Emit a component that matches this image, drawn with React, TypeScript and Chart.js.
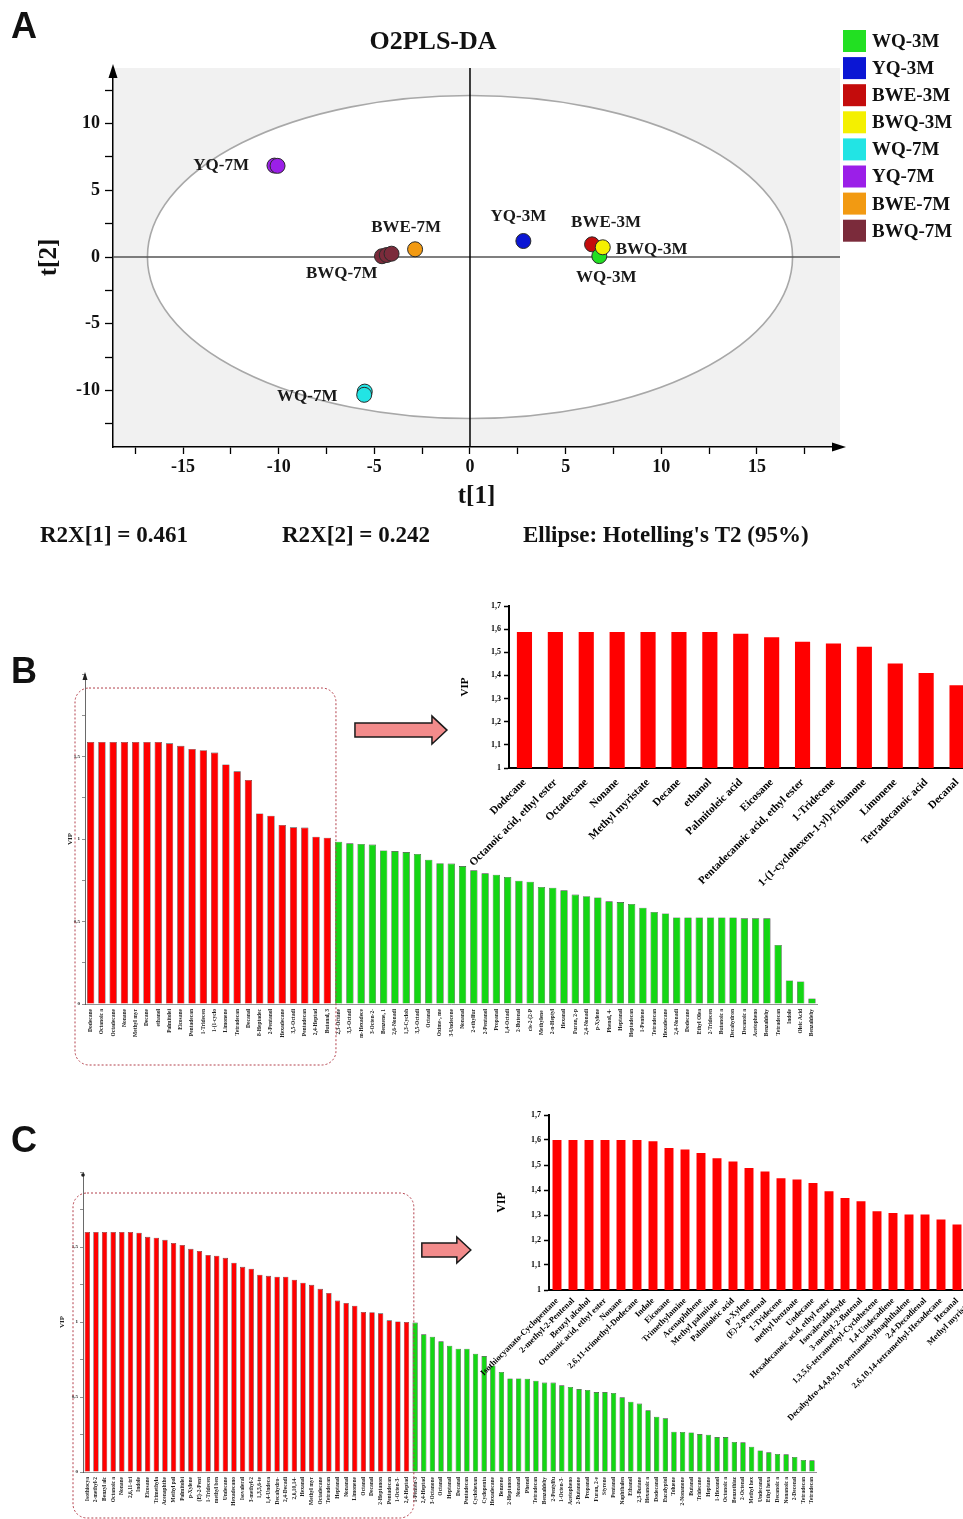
import React, { useEffect, useRef } from 'react';
import { Chart, registerables } from 'chart.js';

Chart.register(...registerables);

const SERIF = "'Liberation Serif', 'Times New Roman', serif";
const SANS = "'Liberation Sans', Arial, sans-serif";
const RED = '#ff0000';
const GREEN = '#14d614';

// ---------------- Panel A : O2PLS-DA score plot ----------------
const plotTitle = 'O2PLS-DA';
const groupNames = ['WQ-3M', 'YQ-3M', 'BWE-3M', 'BWQ-3M', 'WQ-7M', 'YQ-7M', 'BWE-7M', 'BWQ-7M'];
const groupColors = ['#22e022', '#0b16d4', '#c40c0c', '#f4f000', '#22e4e4', '#9b1fe8', '#f29a12', '#7b2b3b'];
const groupOrder = [1, 3, 2, 0, 3, 3, 3, 3];
const t1Scores = [[6.76], [2.79], [6.38], [6.94], [-5.5, -5.53], [-10.22, -10.06], [-2.87], [-4.6, -4.35, -4.1]];
const t2Scores = [[0.07], [1.2], [0.95], [0.73], [-10.08, -10.32], [6.85, 6.83], [0.58], [0.06, 0.15, 0.25]];
const r2x1 = 0.461;
const r2x2 = 0.242;
const ellipseLabel = "Ellipse: Hotelling's T2 (95%)";
const ellipseCenter = [0, 0];
const ellipseRadii = [16.86, 12.1];

// label placement for the group names (pixels from the group's mean point)
const labelPlacement: Record<string, [number, number, CanvasTextAlign]> = {
  'WQ-3M': [7, 22, 'center'],
  'YQ-3M': [-5, -24, 'center'],
  'BWE-3M': [14, -22, 'center'],
  'BWQ-3M': [13, 2, 'left'],
  'WQ-7M': [-27, 3, 'right'],
  'YQ-7M': [-27, 0, 'right'],
  'BWE-7M': [-9, -22, 'center'],
  'BWQ-7M': [-45, 19, 'center'],
};

// ---------------- Panel B : VIP ----------------
const bTopNames = [
  'Dodecane', 'Octanoic acid, ethyl ester', 'Octadecane', 'Nonane', 'Methyl myristate', 'Decane', 'ethanol',
  'Palmitoleic acid', 'Eicosane', 'Pentadecanoic acid, ethyl ester', '1-Tridecene',
  '1-(1-cyclohexen-1-yl)-Ethanone', 'Limonene', 'Tetradecanoic acid', 'Decanal',
];
const bOtherRedNames = ['8-Heptadecene', '2-Pentanol', 'Hexadecane', '3,5-Octadien-2-one', 'Pentadecane', '2,4-Heptadienal', 'Butanal, 3-methyl-'];
const bRedVIP = [1.588, 1.588, 1.588, 1.588, 1.588, 1.588, 1.588, 1.58, 1.565, 1.546, 1.538, 1.524, 1.452, 1.41, 1.358,
  1.155, 1.141, 1.085, 1.071, 1.069, 1.014, 1.008];
const bGreenNames = [
  '2,3-Octanedione', '3,5-Octadien-2-ol', 'm-Hexadecene', '3-Octen-2-one', 'Benzene, 1,3-dimethyl', '2,6-Nonadienal',
  '1,3-Cyclohexadiene', '3,5-Octadiene', 'Octanal', 'Oxime-, methoxy-phenyl', '3-Undecene', 'Nonanal', '2-ethylfuran',
  '2-Pentanol', 'Propanal', '1,4-Octadiene', '2-Butenal', 'cis-2-(2-Pentenyl)furan', 'Methylene chloride',
  '2-n-Heptylfuran', 'Hexanal', 'Furan, 2-pentyl', '2,4-Nonadienal', 'p-Xylene', 'Phenol, 4-ethyl', 'Heptanal',
  'Heptadecane', '1-Pentene', 'Tetradecane', 'Hexadecane', '2,4-Nonadiene', 'Dodecane', 'Ethyl Oleate', '2-Tridecene',
  'Butanoic acid', 'Decahydronaphthalene', 'Decanoic acid', 'Acetophenone', 'Benzaldehyde', 'Tetradecanal', 'Indole',
  'Oleic Acid', 'Benzaldehyde, 4-methyl',
];
const bGreenVIP = [0.984, 0.974, 0.97, 0.966, 0.931, 0.927, 0.921, 0.909, 0.875, 0.853, 0.851, 0.836, 0.81, 0.792,
  0.784, 0.77, 0.747, 0.741, 0.709, 0.705, 0.689, 0.663, 0.653, 0.646, 0.622, 0.618, 0.606, 0.584, 0.558, 0.549,
  0.525, 0.525, 0.525, 0.525, 0.525, 0.525, 0.519, 0.519, 0.519, 0.358, 0.143, 0.137, 0.034];

// ---------------- Panel C : VIP ----------------
const cTopNames = [
  'Isothiocyanato-Cyclopentane', '2-methyl-2-Pentenal', 'Benzyl alcohol', 'Octanoic acid, ethyl ester', 'Nonane',
  '2,6,11-trimethyl-Dodecane', 'Indole', 'Eicosane', 'Trimethylamine', 'Acenaphthene', 'Methyl palmitate',
  'Palmitoleic acid', 'p-Xylene', '(E)-2-Pentenal', '1-Tridecene', 'methyl benzoate', 'Undecane',
  'Hexadecanoic acid, ethyl ester', 'Isovaleraldehyde', '3-methyl-2-Butenal', '1,3,5,6-tetramethyl-Cyclohexene',
  '1,4-Undecadiene', 'Decahydro-4,4,8,9,10-pentamethylnaphthalene', '2,4-Decadienal',
  '2,6,10,14-tetramethyl-Hexadecane', 'Hexanal', 'Methyl myristate',
];
const cOtherRedNames = ['Octadecane', 'Tetradecane', 'Heptanal', 'Nonanal', 'Limonene', 'Octanal', 'Decanal',
  '2-Heptanone', 'Pentadecane', '1-Octen-3-ol', '2,4-Heptadienal'];
const cRedVIP = [1.6, 1.6, 1.6, 1.6, 1.6, 1.6, 1.595, 1.568, 1.562, 1.548, 1.527, 1.514, 1.488, 1.474, 1.447, 1.442,
  1.428, 1.395, 1.368, 1.355, 1.315, 1.308, 1.302, 1.302, 1.282, 1.262, 1.248, 1.221, 1.194, 1.143, 1.127, 1.109,
  1.067, 1.065, 1.058, 1.011, 1.004, 1.0];
const cGreenNames = [
  '1-Penten-3-ol', '2,4-Heptadienal', '3-Octanone', 'Octanal', 'Heptanal', 'Decanal', 'Pentadecane', 'Cyclohexanone',
  'Cyclopentanol', 'Hexadecane', 'Benzene', '2-Heptanone', 'Nonanal', 'Phenol', 'Tetradecane', 'Benzaldehyde',
  '2-Pentylfuran', '1-Octen-3-ol', 'Acetophenone', '2-Butanone', 'Propanal', 'Furan, 2-ethyl', 'Styrene', 'Pentanal',
  'Naphthalene', 'Ethanol', '2,3-Butanedione', 'Hexanoic acid', 'Dodecanal', 'Eucalyptol', 'Toluene', '2-Nonanone',
  'Butanal', 'Tridecane', 'Heptane', '1-Hexanol', 'Octanoic acid', 'Benzothiazole', '2-Octenal', 'Methyl hexanoate',
  'Undecanal', 'Ethyl hexanoate', 'Decanoic acid', 'Nonanoic acid', '2-Decenal', 'Tetradecanal', 'Tetradecane',
];
const cGreenVIP = [0.996, 0.918, 0.902, 0.871, 0.842, 0.822, 0.822, 0.789, 0.773, 0.709, 0.667, 0.624, 0.624, 0.622,
  0.609, 0.596, 0.596, 0.578, 0.567, 0.553, 0.547, 0.533, 0.533, 0.527, 0.498, 0.469, 0.456, 0.411, 0.369, 0.358,
  0.269, 0.267, 0.264, 0.253, 0.249, 0.233, 0.233, 0.2, 0.198, 0.169, 0.144, 0.131, 0.12, 0.118, 0.1, 0.08, 0.078];

// ---------------- helpers ----------------
const short = (s: string) => s.slice(0, 10);

function fmtMain(v: number) {
  const r = Math.round(v * 100) / 100;
  if (r >= 2 || Math.abs(r * 2 - Math.round(r * 2)) > 1e-9) return '';
  return String(r).replace('.', ',');
}
function fmtInset(v: number) {
  const r = Math.round(v * 10) / 10;
  return String(r).replace('.', ',');
}

const baseOptions = {
  responsive: false,
  animation: false,
  devicePixelRatio: 1,
  events: [],
};

// ---------------- Panel A config ----------------
const scorePlotDecor = {
  id: 'scorePlotDecor',
  beforeDraw(chart: any) {
    const { ctx, chartArea: ca, scales: { x, y } } = chart;
    ctx.save();
    ctx.fillStyle = '#f1f1f1';
    ctx.fillRect(ca.left, ca.top, ca.right - ca.left, ca.bottom - ca.top);
    const cx = x.getPixelForValue(ellipseCenter[0]);
    const cy = y.getPixelForValue(ellipseCenter[1]);
    const rx = x.getPixelForValue(ellipseCenter[0] + ellipseRadii[0]) - cx;
    const ry = cy - y.getPixelForValue(ellipseCenter[1] + ellipseRadii[1]);
    ctx.beginPath();
    ctx.ellipse(cx, cy, rx, ry, 0, 0, Math.PI * 2);
    ctx.fillStyle = '#ffffff';
    ctx.fill();
    ctx.strokeStyle = '#a8a8a8';
    ctx.lineWidth = 1.6;
    ctx.stroke();
    ctx.restore();
  },
  beforeDatasetsDraw(chart: any) {
    const { ctx, chartArea: ca, scales: { x, y } } = chart;
    ctx.save();
    const y0 = y.getPixelForValue(0);
    const x0 = x.getPixelForValue(0);
    ctx.strokeStyle = '#555';
    ctx.lineWidth = 1.5;
    ctx.beginPath();
    ctx.moveTo(ca.left, y0);
    ctx.lineTo(ca.right, y0);
    ctx.stroke();
    ctx.strokeStyle = '#000';
    ctx.beginPath();
    ctx.moveTo(x0, ca.top);
    ctx.lineTo(x0, ca.bottom);
    ctx.stroke();
    ctx.restore();
  },
  afterDraw(chart: any) {
    const { ctx, chartArea: ca, scales: { x, y } } = chart;
    ctx.save();
    // axis arrows
    ctx.fillStyle = '#000';
    ctx.beginPath();
    ctx.moveTo(ca.left, ca.top - 4);
    ctx.lineTo(ca.left - 4.5, ca.top + 10);
    ctx.lineTo(ca.left + 4.5, ca.top + 10);
    ctx.closePath();
    ctx.fill();
    ctx.beginPath();
    ctx.moveTo(ca.right + 6, ca.bottom);
    ctx.lineTo(ca.right - 8, ca.bottom - 4.5);
    ctx.lineTo(ca.right - 8, ca.bottom + 4.5);
    ctx.closePath();
    ctx.fill();
    // group labels
    ctx.font = `bold 17px ${SERIF}`;
    ctx.fillStyle = '#1a1a1a';
    ctx.textBaseline = 'middle';
    groupNames.forEach((name, i) => {
      const xs = t1Scores[i];
      const ys = t2Scores[i];
      const mx = xs.reduce((a, b) => a + b, 0) / xs.length;
      const my = ys.reduce((a, b) => a + b, 0) / ys.length;
      const px = x.getPixelForValue(mx);
      const py = y.getPixelForValue(my);
      const [dx, dy, align] = labelPlacement[name];
      ctx.textAlign = align;
      ctx.fillText(name, px + dx, py + dy);
    });
    // title
    ctx.font = `bold 26px ${SERIF}`;
    ctx.textAlign = 'center';
    ctx.fillStyle = '#111';
    ctx.fillText(plotTitle, 433, 42);
    // legend
    ctx.textAlign = 'left';
    ctx.font = `bold 19px ${SERIF}`;
    groupNames.forEach((name, i) => {
      const top = 30 + i * 27.1;
      ctx.fillStyle = groupColors[i];
      ctx.fillRect(843, top, 23, 22);
      ctx.fillStyle = '#111';
      ctx.fillText(name, 872, top + 12);
    });
    // footnote
    ctx.font = `bold 23px ${SERIF}`;
    ctx.fillText(`R2X[1] = ${r2x1}`, 40, 536);
    ctx.fillText(`R2X[2] = ${r2x2}`, 282, 536);
    ctx.fillText(ellipseLabel, 523, 536);
    // panel letter
    ctx.font = `bold 36px ${SANS}`;
    ctx.textBaseline = 'alphabetic';
    ctx.fillText('A', 11, 38);
    ctx.restore();
  },
};

function configA() {
  const datasets = groupNames.map((name, i) => ({
    label: name,
    data: t1Scores[i].map((v, j) => ({ x: v, y: t2Scores[i][j] })),
    backgroundColor: groupColors[i],
    borderColor: '#2a2a2a',
    borderWidth: 1,
    pointRadius: 7.5,
    pointHoverRadius: 7.5,
    order: groupOrder[i],
  }));
  const tickFont = { family: SERIF, size: 18, weight: 'bold' };
  return {
    type: 'scatter',
    data: { datasets },
    options: {
      ...baseOptions,
      layout: { padding: { top: 68, right: 123, left: 0, bottom: 0 } },
      plugins: { legend: { display: false }, tooltip: { enabled: false } },
      scales: {
        x: {
          type: 'linear',
          min: -18.66,
          max: 19.34,
          afterFit: (s: any) => { s.height = 113; },
          ticks: {
            stepSize: 2.5, includeBounds: false, autoSkip: false, maxRotation: 0, padding: 3,
            color: '#111', font: tickFont,
            callback: (v: number) => (Math.abs(v % 5) < 1e-9 ? String(v) : ''),
          },
          grid: { drawOnChartArea: false, drawTicks: true, tickLength: 7, tickColor: '#000', tickWidth: 1.3 },
          border: { display: true, color: '#000', width: 1.5 },
          title: { display: true, text: 't[1]', color: '#111', font: { family: SERIF, size: 25, weight: 'bold' }, padding: { top: 0, bottom: 48 } },
        },
        y: {
          type: 'linear',
          min: -14.23,
          max: 14.16,
          afterFit: (s: any) => { s.width = 113; },
          ticks: {
            stepSize: 2.5, includeBounds: false, padding: 5, color: '#111', font: tickFont,
            callback: (v: number) => (Math.abs(v % 5) < 1e-9 ? String(v) : ''),
          },
          grid: { drawOnChartArea: false, drawTicks: true, tickLength: 8, tickColor: '#000', tickWidth: 1.3 },
          border: { display: true, color: '#000', width: 1.5 },
          title: { display: true, text: 't[2]', color: '#111', font: { family: SERIF, size: 25, weight: 'bold' }, padding: { top: 35, bottom: 0 } },
        },
      },
    },
    plugins: [scorePlotDecor],
  };
}

// ---------------- Main VIP bar charts ----------------
type MainParams = {
  id: string; letter: string; letterY: number;
  redNames: string[]; redVals: number[]; greenNames: string[]; greenVals: number[];
  barPct: number; padTop: number; padRight: number; yWidth: number; xHeight: number; titlePad: number;
  boxTopVal: number; boxBottomOff: number; arrowVal: number; arrowGap: number; arrowLen: number;
  headLen: number; bodyHalf: number; headHalf: number; axisDot: boolean;
};

function makeMainDecor(p: MainParams) {
  return {
    id: p.id,
    afterDraw(chart: any) {
      const { ctx, chartArea: ca, scales: { x, y } } = chart;
      const half = (x.getPixelForValue(1) - x.getPixelForValue(0)) / 2;
      const nRed = p.redVals.length;
      const boxL = ca.left - 10;
      const boxR = x.getPixelForValue(nRed - 1) + half + 3;
      const boxT = y.getPixelForValue(p.boxTopVal);
      const boxB = ca.bottom + p.boxBottomOff;
      ctx.save();
      ctx.setLineDash([2, 2]);
      ctx.strokeStyle = '#b3404c';
      ctx.lineWidth = 1;
      ctx.beginPath();
      ctx.roundRect(boxL, boxT, boxR - boxL, boxB - boxT, 14);
      ctx.stroke();
      ctx.setLineDash([]);
      // arrow to inset
      const ay = y.getPixelForValue(p.arrowVal);
      const ax0 = boxR + p.arrowGap;
      const ax1 = ax0 + p.arrowLen;
      ctx.beginPath();
      ctx.moveTo(ax0, ay - p.bodyHalf);
      ctx.lineTo(ax1 - p.headLen, ay - p.bodyHalf);
      ctx.lineTo(ax1 - p.headLen, ay - p.headHalf);
      ctx.lineTo(ax1, ay);
      ctx.lineTo(ax1 - p.headLen, ay + p.headHalf);
      ctx.lineTo(ax1 - p.headLen, ay + p.bodyHalf);
      ctx.lineTo(ax0, ay + p.bodyHalf);
      ctx.closePath();
      ctx.fillStyle = '#f28b8b';
      ctx.fill();
      ctx.strokeStyle = '#1a1a1a';
      ctx.lineWidth = 1.5;
      ctx.stroke();
      // axis arrow / dot
      ctx.fillStyle = '#222';
      if (p.axisDot) {
        ctx.beginPath();
        ctx.arc(ca.left, ca.top + 3, 1.8, 0, Math.PI * 2);
        ctx.fill();
      } else {
        ctx.beginPath();
        ctx.moveTo(ca.left, ca.top - 2);
        ctx.lineTo(ca.left - 2.5, ca.top + 6);
        ctx.lineTo(ca.left + 2.5, ca.top + 6);
        ctx.closePath();
        ctx.fill();
      }
      // panel letter
      ctx.font = `bold 36px ${SANS}`;
      ctx.fillStyle = '#111';
      ctx.textAlign = 'left';
      ctx.textBaseline = 'alphabetic';
      ctx.fillText(p.letter, 11, p.letterY);
      ctx.restore();
    },
  };
}

function makeMainBar(p: MainParams) {
  const labels = [...p.redNames, ...p.greenNames].map(short);
  const values = [...p.redVals, ...p.greenVals];
  const colors = values.map((_, i) => (i < p.redVals.length ? RED : GREEN));
  const tinyFont = { family: SERIF, size: 5.5, weight: 'bold' };
  return {
    type: 'bar',
    data: {
      labels,
      datasets: [{
        data: values, backgroundColor: colors, borderColor: '#3a3a3a', borderWidth: 0.6,
        barPercentage: p.barPct, categoryPercentage: 1,
      }],
    },
    options: {
      ...baseOptions,
      layout: { padding: { top: p.padTop, right: p.padRight, left: 0, bottom: 0 } },
      plugins: { legend: { display: false }, tooltip: { enabled: false } },
      scales: {
        x: {
          afterFit: (s: any) => { s.height = p.xHeight; },
          grid: { display: false, drawTicks: false },
          border: { display: true, color: '#777', width: 0.8, dash: [1.5, 1.5] },
          ticks: { autoSkip: false, minRotation: 90, maxRotation: 90, padding: 5, color: '#222', font: tinyFont },
        },
        y: {
          min: 0,
          max: 2,
          afterFit: (s: any) => { s.width = p.yWidth; },
          ticks: { stepSize: 0.25, callback: fmtMain, padding: 2, color: '#222', font: { family: SERIF, size: 5, weight: 'bold' } },
          grid: { drawOnChartArea: false, drawTicks: true, tickLength: 3, tickColor: '#444', tickWidth: 0.6 },
          border: { display: true, color: '#444', width: 0.8 },
          title: { display: true, text: 'VIP', color: '#222', font: { family: SERIF, size: 7, weight: 'bold' }, padding: { top: p.titlePad, bottom: 0 } },
        },
      },
    },
    plugins: [makeMainDecor(p)],
  };
}

// ---------------- Inset VIP bar charts ----------------
type InsetParams = {
  names: string[]; values: number[]; barPct: number; padTop: number; padRight: number;
  yWidth: number; xHeight: number; titlePad: number; titleSize: number; labelSize: number; labelPad: number;
};

function makeInset(p: InsetParams) {
  return {
    type: 'bar',
    data: {
      labels: p.names,
      datasets: [{ data: p.values, backgroundColor: RED, borderWidth: 0, barPercentage: p.barPct, categoryPercentage: 1 }],
    },
    options: {
      ...baseOptions,
      layout: { padding: { top: p.padTop, right: p.padRight, left: 0, bottom: 0 } },
      plugins: { legend: { display: false }, tooltip: { enabled: false } },
      scales: {
        x: {
          afterFit: (s: any) => { s.height = p.xHeight; },
          grid: { display: false, drawTicks: false },
          border: { display: true, color: '#000', width: 2 },
          ticks: {
            autoSkip: false, minRotation: 45, maxRotation: 45, padding: p.labelPad, color: '#000',
            font: { family: SERIF, size: p.labelSize, weight: 'bold' },
          },
        },
        y: {
          min: 1,
          max: 1.7,
          afterFit: (s: any) => { s.width = p.yWidth; },
          ticks: { stepSize: 0.1, callback: fmtInset, padding: 3, color: '#000', font: { family: SERIF, size: 8, weight: 'bold' } },
          grid: { drawOnChartArea: false, drawTicks: true, tickLength: 5, tickColor: '#000', tickWidth: 1.5 },
          border: { display: true, color: '#000', width: 2 },
          title: { display: true, text: 'VIP', color: '#000', font: { family: SERIF, size: p.titleSize, weight: 'bold' }, padding: { top: p.titlePad, bottom: 0 } },
        },
      },
    },
  };
}

const configBMain = () => makeMainBar({
  id: 'decorB', letter: 'B', letterY: 43,
  redNames: [...bTopNames, ...bOtherRedNames], redVals: bRedVIP, greenNames: bGreenNames, greenVals: bGreenVIP,
  barPct: 0.65, padTop: 34, padRight: 12.4, yWidth: 85, xHeight: 76, titlePad: 65.8,
  boxTopVal: 1.915, boxBottomOff: 61, arrowVal: 1.66, arrowGap: 19, arrowLen: 92,
  headLen: 15, bodyHalf: 7, headHalf: 14, axisDot: false,
});

const configCMain = () => makeMainBar({
  id: 'decorC', letter: 'C', letterY: 42,
  redNames: [...cTopNames, ...cOtherRedNames], redVals: cRedVIP, greenNames: cGreenNames, greenVals: cGreenVIP,
  barPct: 0.62, padTop: 62, padRight: 13.7, yWidth: 83, xHeight: 47, titlePad: 57.5,
  boxTopVal: 1.86, boxBottomOff: 46, arrowVal: 1.48, arrowGap: 8, arrowLen: 49,
  headLen: 14, bodyHalf: 7, headHalf: 13, axisDot: true,
});

const configBInset = () => makeInset({
  names: bTopNames, values: bRedVIP.slice(0, bTopNames.length), barPct: 0.49,
  padTop: 11, padRight: 12.5, yWidth: 69, xHeight: 127, titlePad: 18.4, titleSize: 11, labelSize: 11, labelPad: 8,
});

const configCInset = () => makeInset({
  names: cTopNames, values: cRedVIP.slice(0, cTopNames.length), barPct: 0.56,
  padTop: 15, padRight: 19, yWidth: 109, xHeight: 150, titlePad: 54.8, titleSize: 12, labelSize: 8.5, labelPad: 6,
});

// ---------------- components ----------------
function ChartBox({ x, y, w, h, make }: { x: number; y: number; w: number; h: number; make: () => any }) {
  const ref = useRef<HTMLCanvasElement | null>(null);
  useEffect(() => {
    if (!ref.current) return;
    const chart = new Chart(ref.current, make());
    return () => chart.destroy();
  }, []);
  return (
    <canvas
      ref={ref}
      width={w}
      height={h}
      style={{ position: 'absolute', left: x, top: y, width: w, height: h }}
    />
  );
}

export default function App() {
  return (
    <div style={{ position: 'absolute', left: 0, top: 0, width: 963, height: 1519, overflow: 'hidden', background: '#fff' }}>
      <ChartBox x={0} y={0} w={963} h={560} make={configA} />
      <ChartBox x={0} y={640} w={830} h={440} make={configBMain} />
      <ChartBox x={440} y={595} w={545} h={300} make={configBInset} />
      <ChartBox x={0} y={1110} w={830} h={409} make={configCMain} />
      <ChartBox x={440} y={1100} w={560} h={340} make={configCInset} />
    </div>
  );
}
